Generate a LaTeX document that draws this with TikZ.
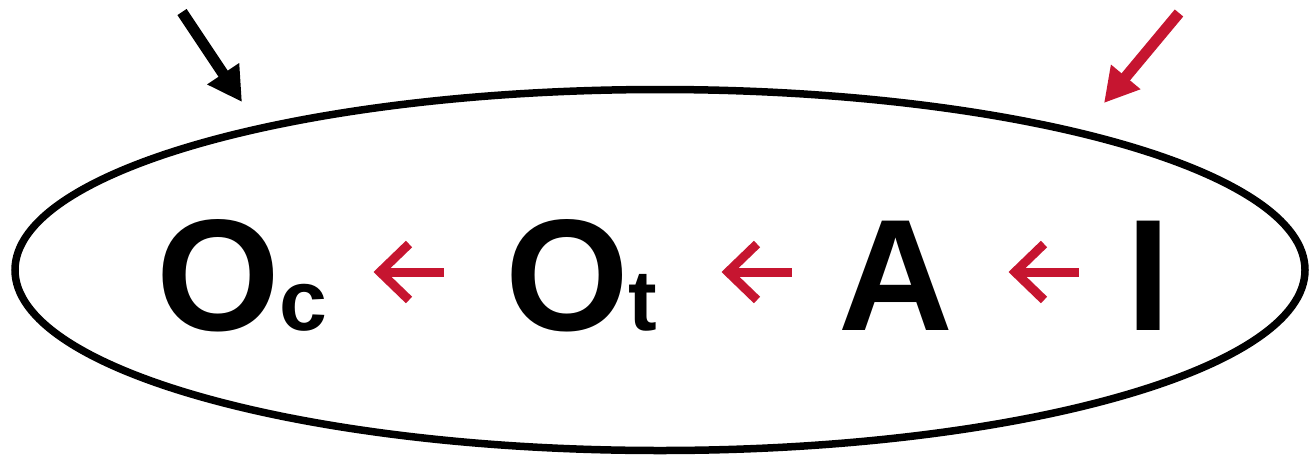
\documentclass[tikz,border=0pt]{standalone}
\usepackage{fontspec}
\setmainfont{Liberation Sans}
\usetikzlibrary{arrows.meta,shapes.geometric}
\definecolor{arrred}{RGB}{198,21,48}
\tikzset{
  big/.style={inner sep=0pt, outer sep=0pt, anchor=base west, font=\bfseries\fontsize{159}{160}\selectfont},
  redarrow/.style={draw=arrred, line width=9pt, miter limit=10},
  toparrow/.style={line width=11pt, -{Triangle[length=34pt,width=36pt]}},
}
\newcommand{\subsz}[1]{{\fontsize{86}{86}\selectfont #1}}
\begin{document}
\begin{tikzpicture}[x=1pt,y=-1pt]
\useasboundingbox (0,0) rectangle (1309,456);
\node[draw, line width=7.5pt, ellipse, minimum width=1290pt, minimum height=361pt, inner sep=0pt] (ell) at (660,270) {};
\node[big] (oc) at (156,330) {O\subsz{c}};
\node[big] (ot) at (505,330) {O\subsz{t}};
\node[big] (a) at (838,330) {A};
\node[big] (i) at (1126,330) {I};
% red arrows
\coordinate (r1t) at (380,272); \coordinate (r1e) at (444,272);
\coordinate (r2t) at (728,272); \coordinate (r2e) at (792,272);
\coordinate (r3t) at (1015,272); \coordinate (r3e) at (1079,272);
\foreach \t/\e in {r1t/r1e, r2t/r2e, r3t/r3e}{
  \draw[redarrow] ([xshift=2pt]\t) -- (\e);
  \draw[redarrow] ([xshift=29pt,yshift=-28pt]\t) -- (\t) -- ([xshift=29pt,yshift=28pt]\t);
}
% top arrows
\coordinate (bt) at (182,12); \coordinate (bh) at (242,102);
\coordinate (rt) at (1179,13); \coordinate (rh) at (1104,103);
\draw[toparrow, black] (bt) -- (bh);
\draw[toparrow, arrred] (rt) -- (rh);
\end{tikzpicture}
\end{document}
